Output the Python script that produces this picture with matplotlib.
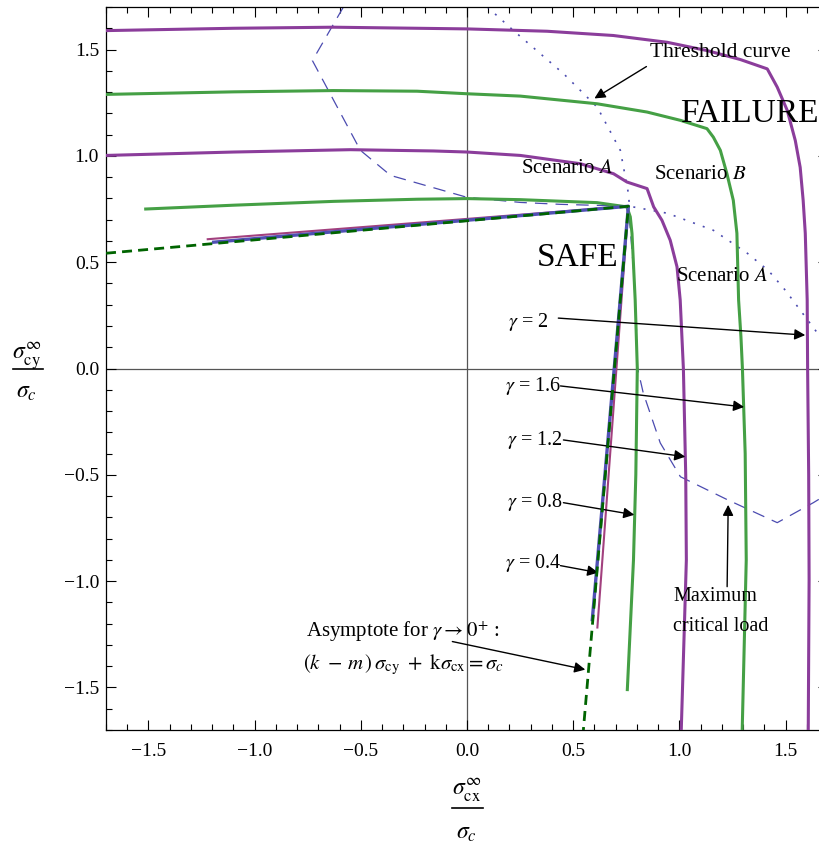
import numpy as np
import matplotlib.pyplot as plt
from matplotlib.lines import Line2D

plt.rcParams['font.family'] = ['Liberation Serif', 'DejaVu Serif']
plt.rcParams['mathtext.fontset'] = 'stix'

# ---- curve data ----
# gamma = 2, scenario A (purple)
g2_x = [-1.70, -1.098, -0.629, 0.0, 0.377, 0.689, 0.943, 1.131, 1.287, 1.414, 1.461, 1.508, 1.546,
        1.569, 1.583, 1.593, 1.602, 1.604, 1.609, 1.611, 1.607]
g2_y = [1.589, 1.600, 1.605, 1.597, 1.586, 1.566, 1.534, 1.495, 1.453, 1.409, 1.323, 1.214, 1.072,
        0.946, 0.791, 0.636, 0.322, 0.0, -0.5, -0.99, -1.70]
# gamma = 1.6, scenario B (green)
g16_x = [-1.70, -1.099, -0.629, -0.235, 0.0, 0.251, 0.612, 0.848, 1.005, 1.130, 1.160, 1.193, 1.224,
         1.254, 1.271, 1.279, 1.290, 1.297, 1.310, 1.315, 1.296]
g16_y = [1.289, 1.301, 1.307, 1.304, 1.292, 1.281, 1.245, 1.206, 1.167, 1.128, 1.088, 1.026, 0.916,
         0.791, 0.636, 0.322, 0.15, 0.0, -0.4, -0.9, -1.70]
# gamma = 1.2, scenario A (purple)
g12_x = [-1.70, -1.099, -0.549, -0.158, 0.0, 0.251, 0.534, 0.690, 0.753, 0.848, 0.879, 0.918, 0.957,
         0.989, 1.004, 1.012, 1.019, 1.030, 1.033, 1.009]
g12_y = [1.002, 1.018, 1.029, 1.023, 1.018, 1.002, 0.963, 0.916, 0.877, 0.846, 0.760, 0.697, 0.603,
         0.478, 0.322, 0.15, 0.0, -0.5, -0.9, -1.70]
# gamma = 0.8, scenario B (green)
g08_x = [-1.513, -1.098, -0.627, -0.235, 0.0, 0.251, 0.612, 0.753, 0.769, 0.777, 0.792, 0.802, 0.795,
         0.784, 0.755]
g08_y = [0.750, 0.768, 0.786, 0.796, 0.799, 0.794, 0.780, 0.760, 0.713, 0.635, 0.322, 0.0, -0.5,
         -0.9, -1.51]
# gamma = 0.4, scenario A (thin purple) and scenario B (blue)
g04a_x = [-1.221, 0.760, 0.614]
g04a_y = [0.608, 0.763, -1.218]
g04b_x = [-1.193, 0.760, 0.590]
g04b_y = [0.594, 0.763, -1.181]
# asymptote for gamma -> 0+
asym_x = [-1.70, 0.760, 0.548]
asym_y = [0.542, 0.763, -1.70]
# maximum critical load (dashed)
maxc_x = [-0.582, -0.728, -0.502, -0.360, 0.0, 0.251, 0.439, 0.760, 0.784, 0.798, 0.802, 0.830, 0.910,
          1.005, 1.226, 1.461, 1.631, 1.70]
maxc_y = [1.70, 1.448, 1.026, 0.908, 0.805, 0.781, 0.772, 0.763, 0.465, 0.183, 0.007, -0.115, -0.350,
          -0.509, -0.617, -0.725, -0.631, -0.589]
# threshold curve (dotted)
thr_x = [0.096, 0.219, 0.454, 0.614, 0.722, 0.760, 0.765, 0.944, 1.160, 1.320, 1.420, 1.499, 1.650, 1.70]
thr_y = [1.70, 1.589, 1.387, 1.228, 1.026, 0.824, 0.763, 0.730, 0.650, 0.542, 0.46, 0.368, 0.167, 0.110]

gamma_labels = ['2', '1.6', '1.2', '0.8', '0.4']
gamma_text_xy = [(0.195, 0.218), (0.181, -0.082), (0.19, -0.336), (0.19, -0.627), (0.181, -0.913)]
gamma_tail = [(0.43, 0.237), (0.44, -0.082), (0.454, -0.336), (0.454, -0.631), (0.44, -0.927)]
gamma_head = [(1.593, 0.157), (1.305, -0.181), (1.028, -0.415), (0.788, -0.688), (0.618, -0.96)]

purple = '#8b3d9b'
green = '#45a045'

fig = plt.figure(figsize=(8.19, 8.43), dpi=100)
ax = fig.add_axes([106 / 819, 113 / 843, 722 / 819, 723 / 843])

ax.axhline(0, color='#555555', lw=0.9, zorder=1)
ax.axvline(0, color='#555555', lw=0.9, zorder=1)

ax.plot(thr_x, thr_y, color='#4b4bb0', lw=1.2, dashes=(1.2, 5), zorder=2)
ax.plot(maxc_x, maxc_y, color='#4b4bb0', lw=0.9, dashes=(10, 6.5), zorder=2)

kw = dict(lw=2.2, zorder=3, solid_joinstyle='round')
ax.plot(g2_x, g2_y, color=purple, **kw)
ax.plot(g16_x, g16_y, color=green, **kw)
ax.plot(g12_x, g12_y, color=purple, **kw)
ax.plot(g08_x, g08_y, color=green, **kw)
ax.plot(g04a_x, g04a_y, color='#a2407e', lw=1.5, zorder=3)
ax.plot(g04b_x, g04b_y, color='#5050b4', lw=2.4, zorder=3)
ax.plot(asym_x, asym_y, color='#006400', lw=2.0, dashes=(3.6, 2.2), zorder=4)

ax.set_xlim(-1.7, 1.7)
ax.set_ylim(-1.7, 1.7)
major = np.arange(-1.5, 1.51, 0.5)
ax.set_xticks(major)
ax.set_yticks(major)
ax.set_xticks(np.arange(-1.7, 1.71, 0.1), minor=True)
ax.set_yticks(np.arange(-1.7, 1.71, 0.1), minor=True)
ticklabs = ['%.1f' % v if v >= 0 else '\u2212%.1f' % -v for v in major]
ax.set_xticklabels(ticklabs)
ax.set_yticklabels(ticklabs)
ax.tick_params(which='both', direction='in', top=True, right=True, width=0.8, labelsize=14)
ax.tick_params(which='major', length=7.2)
ax.tick_params(which='minor', length=4.3)
ax.tick_params(axis='x', pad=9)
ax.tick_params(axis='y', pad=5)
for s in ax.spines.values():
    s.set_linewidth(0.9)

arrow = dict(arrowstyle='-|>', color='black', lw=1.0, mutation_scale=16, shrinkA=0, shrinkB=0)

ax.text(0.864, 1.486, 'Threshold curve', fontsize=15.5, va='center', ha='left')
ax.annotate('', xy=(0.6, 1.27), xytext=(0.845, 1.42), arrowprops=arrow)
ax.text(1.005, 1.199, 'FAILURE', fontsize=24, va='center', ha='left')
ax.text(0.52, 0.523, 'SAFE', fontsize=24, va='center', ha='center')
ax.text(0.256, 0.94, r'Scenario $A$', fontsize=15, va='center', ha='left')
ax.text(0.882, 0.913, r'Scenario $B$', fontsize=15, va='center', ha='left')
ax.text(0.985, 0.434, r'Scenario $A$', fontsize=15, va='center', ha='left')

for lab, txy, tail, head in zip(gamma_labels, gamma_text_xy, gamma_tail, gamma_head):
    ax.text(txy[0], txy[1], r'$\gamma$ = ' + lab, fontsize=14.5, va='center', ha='left')
    ax.annotate('', xy=head, xytext=tail, arrowprops=arrow)

ax.text(1.169, -1.073, 'Maximum', fontsize=14.5, va='center', ha='center')
ax.text(1.193, -1.214, 'critical load', fontsize=14.5, va='center', ha='center')
ax.annotate('', xy=(1.23, -0.641), xytext=(1.225, -1.026), arrowprops=arrow)

ax.text(-0.76, -1.237, r'Asymptote for $\gamma \rightarrow 0^{+}$ :', fontsize=15, va='center', ha='left')
ax.text(-0.774, -1.392, r'$(k\ -\,m\,)\,\sigma_{\rm cy}\ +\ {\rm k}\sigma_{\rm cx} = \sigma_c$',
        fontsize=15, va='center', ha='left')
ax.annotate('', xy=(0.557, -1.416), xytext=(-0.069, -1.284), arrowprops=arrow)

# axis labels drawn as stacked fractions
fig.text(27 / 819, 1 - 356 / 843, r'$\sigma_{\rm cy}^{\infty}$', fontsize=17, ha='center', va='center')
fig.add_artist(Line2D([13 / 819, 43 / 819], [1 - 369 / 843] * 2, color='black', lw=1.2))
fig.text(26 / 819, 1 - 392 / 843, r'$\sigma_c$', fontsize=17, ha='center', va='center')

fig.text(467 / 819, 1 - 790 / 843, r'$\sigma_{\rm cx}^{\infty}$', fontsize=17, ha='center', va='center')
fig.add_artist(Line2D([452 / 819, 483 / 819], [1 - 808 / 843] * 2, color='black', lw=1.2))
fig.text(466 / 819, 1 - 834 / 843, r'$\sigma_c$', fontsize=17, ha='center', va='center')

fig.savefig('out.png', dpi=100)
